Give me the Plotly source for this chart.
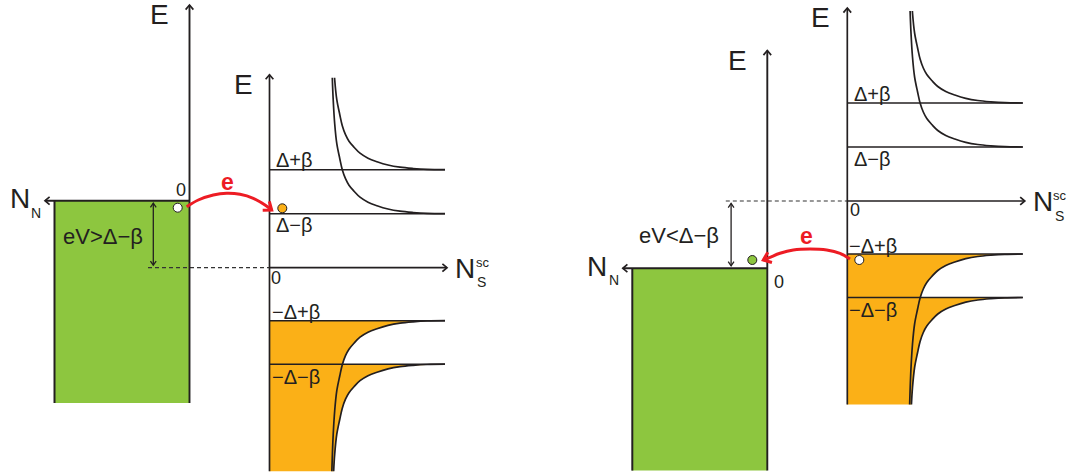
import numpy as np
import plotly.graph_objects as go

# ---------------- values (pixel units) ----------------
# Superconductor DOS shape: distance from the gap edge (u) vs density (n)
dos_u = [0, 0.3, 1.2, 2.5, 4.7, 8, 11.5, 16.5, 22.5, 28.5, 35, 44, 55, 70, 90, 114, 136, 152]
dos_n = [175.5, 157.5, 143.5, 130.5, 118.5, 107.5, 98.5, 90.5, 84.5, 79.5, 76, 72.8,
         70.3, 67.3, 65.2, 63.7, 62.8, 62.3]

# gap-edge levels, energy above the S zero
level_names = ["Δ+β", "Δ−β", "−Δ+β", "−Δ−β"]
level_E = [98, 54, -53, -96.5]
level_branch = [1, 1, -1, -1]

# two panels: eV > Δ−β (left), eV < Δ−β (right)
panel_labels = ["eV>Δ−β", "eV<Δ−β"]
n_axis_x = [189.5, 767.3]
n_fermi_y = [200.7, 268.3]
n_axis_top = [5, 50.5]
s_axis_x = [269.5, 847.3]
s_zero_y = [267.7, 201.0]
n_dot_xy = [(177.7, 207.7), (752.3, 260.0)]
s_dot_xy = [(282.3, 208.3), (859.3, 260.0)]
arc_x = [[186.7, 198.3, 213.3, 226.7, 240.0, 253.3, 265.0, 271.7],
         [850.0, 840.0, 826.7, 810.0, 793.3, 780.0, 770.0, 763.3]]
arc_y = [[206.7, 200.0, 195.0, 193.3, 194.3, 198.3, 205.0, 210.0],
         [259.0, 253.3, 250.0, 249.0, 250.0, 253.3, 257.3, 260.0]]
e_label_xy = [(227.5, 182.0), (806.3, 235.5)]
ev_label_xy = [(103.3, 236.7), (678.8, 235.0)]

green_width = 135
green_depth = 202.3
n_arrow_len = 144.5
s_top_E, s_bot_E, s_tip_E = 190, -203.5, 193
s_line_len, s_axis_len = 175.5, 177.5

BLACK = "#231f20"
GREEN = "#8dc63f"
ORANGE = "#fbb017"
RED = "#ed1c24"
FONT = "Liberation Sans, Arial, sans-serif"

fig = go.Figure()


def add_line(x, y, w=1.7, color=BLACK, dash=None, shape="linear"):
    fig.add_trace(go.Scatter(x=list(x), y=list(y), mode="lines",
                             line=dict(color=color, width=w, dash=dash, shape=shape),
                             hoverinfo="skip", showlegend=False))


def chevron(tx, ty, dx, dy, L=6.0, ang=40, w=1.7, color=BLACK):
    d = np.hypot(dx, dy)
    ux, uy = dx / d, dy / d
    pts = []
    for s in (1, -1):
        a = np.radians(ang * s)
        rx = ux * np.cos(a) - uy * np.sin(a)
        ry = ux * np.sin(a) + uy * np.cos(a)
        pts.append((tx - L * rx, ty - L * ry))
    add_line([pts[0][0], tx, pts[1][0]], [pts[0][1], ty, pts[1][1]], w, color)


def branch(level, sign, umax):
    u = [v for v in dos_u if v < umax] + [umax]
    n = np.interp(u, dos_u, dos_n)
    return n, level + sign * np.array(u)


ann = []


def text(x, y, s, size, color=BLACK, xa="center", bold=False):
    if bold:
        s = "<b>" + s + "</b>"
    ann.append(dict(x=x, y=y, text=s, showarrow=False, xanchor=xa, yanchor="middle",
                    font=dict(family=FONT, size=size, color=color)))


for p in range(2):
    ax, fy, top = n_axis_x[p], n_fermi_y[p], n_axis_top[p]
    sx, sz = s_axis_x[p], s_zero_y[p]
    X = lambda n: sx + np.asarray(n)
    Y = lambda e: sz - np.asarray(e)

    # green normal metal
    gx0 = ax - green_width
    fig.add_trace(go.Scatter(x=[gx0, ax, ax, gx0, gx0],
                             y=[fy, fy, fy + green_depth, fy + green_depth, fy],
                             mode="lines", fill="toself", fillcolor=GREEN,
                             line=dict(width=0), hoverinfo="skip", showlegend=False))

    # orange occupied states of S
    LC, LD = level_E[2], level_E[3]
    nC, EC = branch(LC, -1, LC - LD)
    nD, ED = branch(LD, -1, LD - s_bot_E)
    poly_n = [0] + list(nC) + [s_line_len] + list(nD) + [0, 0]
    poly_e = [LC] + list(EC) + [LD] + list(ED) + [s_bot_E, LC]
    fig.add_trace(go.Scatter(x=X(poly_n), y=Y(poly_e), mode="lines", fill="toself",
                             fillcolor=ORANGE, line=dict(width=0),
                             hoverinfo="skip", showlegend=False))

    # dashed line at S zero
    add_line([ax - 41.5, sx], [sz, sz], w=1.2, color="#333333", dash="4px,3px")

    # level lines
    for E in level_E:
        add_line(X([0, s_line_len]), Y([E, E]), w=1.6)

    # S axes
    add_line(X([0, s_axis_len]), [sz, sz])
    chevron(sx + s_axis_len, sz, 1, 0)
    add_line([sx, sx], Y([s_bot_E, s_tip_E]))
    chevron(sx, sz - s_tip_E, 0, -1)

    # DOS curves
    for E, sgn in zip(level_E, level_branch):
        umax = (s_top_E - E) if sgn > 0 else (E - s_bot_E)
        n, e = branch(E, sgn, umax)
        add_line(X(n), Y(e), w=1.7, shape="spline")

    # normal-metal axes and edges
    add_line([ax, ax], [fy + green_depth, top], w=1.9)
    chevron(ax, top, 0, -1)
    add_line([ax, ax - n_arrow_len], [fy, fy], w=1.9)
    chevron(ax - n_arrow_len, fy, -1, 0)
    add_line([gx0, gx0], [fy, fy + green_depth], w=2.0)

    # eV double arrow
    ya, yb = min(fy, sz) + 2.5, max(fy, sz) - 2.5
    xe = ax - 36.2
    add_line([xe, xe], [ya, yb], w=1.3)
    chevron(xe, ya, 0, -1, L=5, ang=35, w=1.3)
    chevron(xe, yb, 0, 1, L=5, ang=35, w=1.3)

    # particles
    fig.add_trace(go.Scatter(x=[n_dot_xy[p][0]], y=[n_dot_xy[p][1]], mode="markers",
                             marker=dict(size=9, color="white" if p == 0 else GREEN,
                                         line=dict(color=BLACK, width=1)),
                             hoverinfo="skip", showlegend=False))
    fig.add_trace(go.Scatter(x=[s_dot_xy[p][0]], y=[s_dot_xy[p][1]], mode="markers",
                             marker=dict(size=9, color=ORANGE if p == 0 else "white",
                                         line=dict(color=BLACK, width=1)),
                             hoverinfo="skip", showlegend=False))

    # red tunnelling arrow
    add_line(arc_x[p], arc_y[p], w=3, color=RED, shape="spline")
    chevron(arc_x[p][-1], arc_y[p][-1], arc_x[p][-1] - arc_x[p][-2],
            arc_y[p][-1] - arc_y[p][-2], L=9, ang=38, w=3, color=RED)

    # texts
    text(ax - 30, top + 9.5, "E", 28)
    text(sx - 26.5, sz - s_tip_E + 9.5, "E", 28)
    text(ax - 170, fy - 2.2, "N", 28)
    text(ax - 153.4, fy + 11.8, "N", 14)
    text(sx + 195.5, sz + 0.5, "N", 28)
    text(sx + 213, sz - 5.5, "sc", 13)
    text(sx + 212.2, sz + 14.5, "S", 14)
    text(e_label_xy[p][0], e_label_xy[p][1], "e", 23, color=RED, bold=True)
    text(ev_label_xy[p][0], ev_label_xy[p][1], panel_labels[p], 22)
    offs = [-9.5, 11.5, -8.5, 12.5]
    xs = [4.5, 4.5, 0.0, 0.0]
    for name, E, o, xo in zip(level_names, level_E, offs, xs):
        text(sx + xo, sz - E + o, name, 20, xa="left")
    if p == 0:
        text(180.8, 189.5, "0", 18)
        text(276.3, 277.8, "0", 18)
    else:
        text(778.7, 281.7, "0", 18)
        text(854.7, 209.7, "0", 18)

fig.update_layout(
    width=1078, height=474, margin=dict(l=0, r=0, t=0, b=0),
    paper_bgcolor="white", plot_bgcolor="white",
    xaxis=dict(range=[0, 1078], visible=False, fixedrange=True),
    yaxis=dict(range=[474, 0], visible=False, fixedrange=True),
    annotations=ann, showlegend=False,
)

fig.write_html("out.html", config={"displayModeBar": False},
               post_script="document.body.style.margin='0';document.body.style.overflow='hidden';")
